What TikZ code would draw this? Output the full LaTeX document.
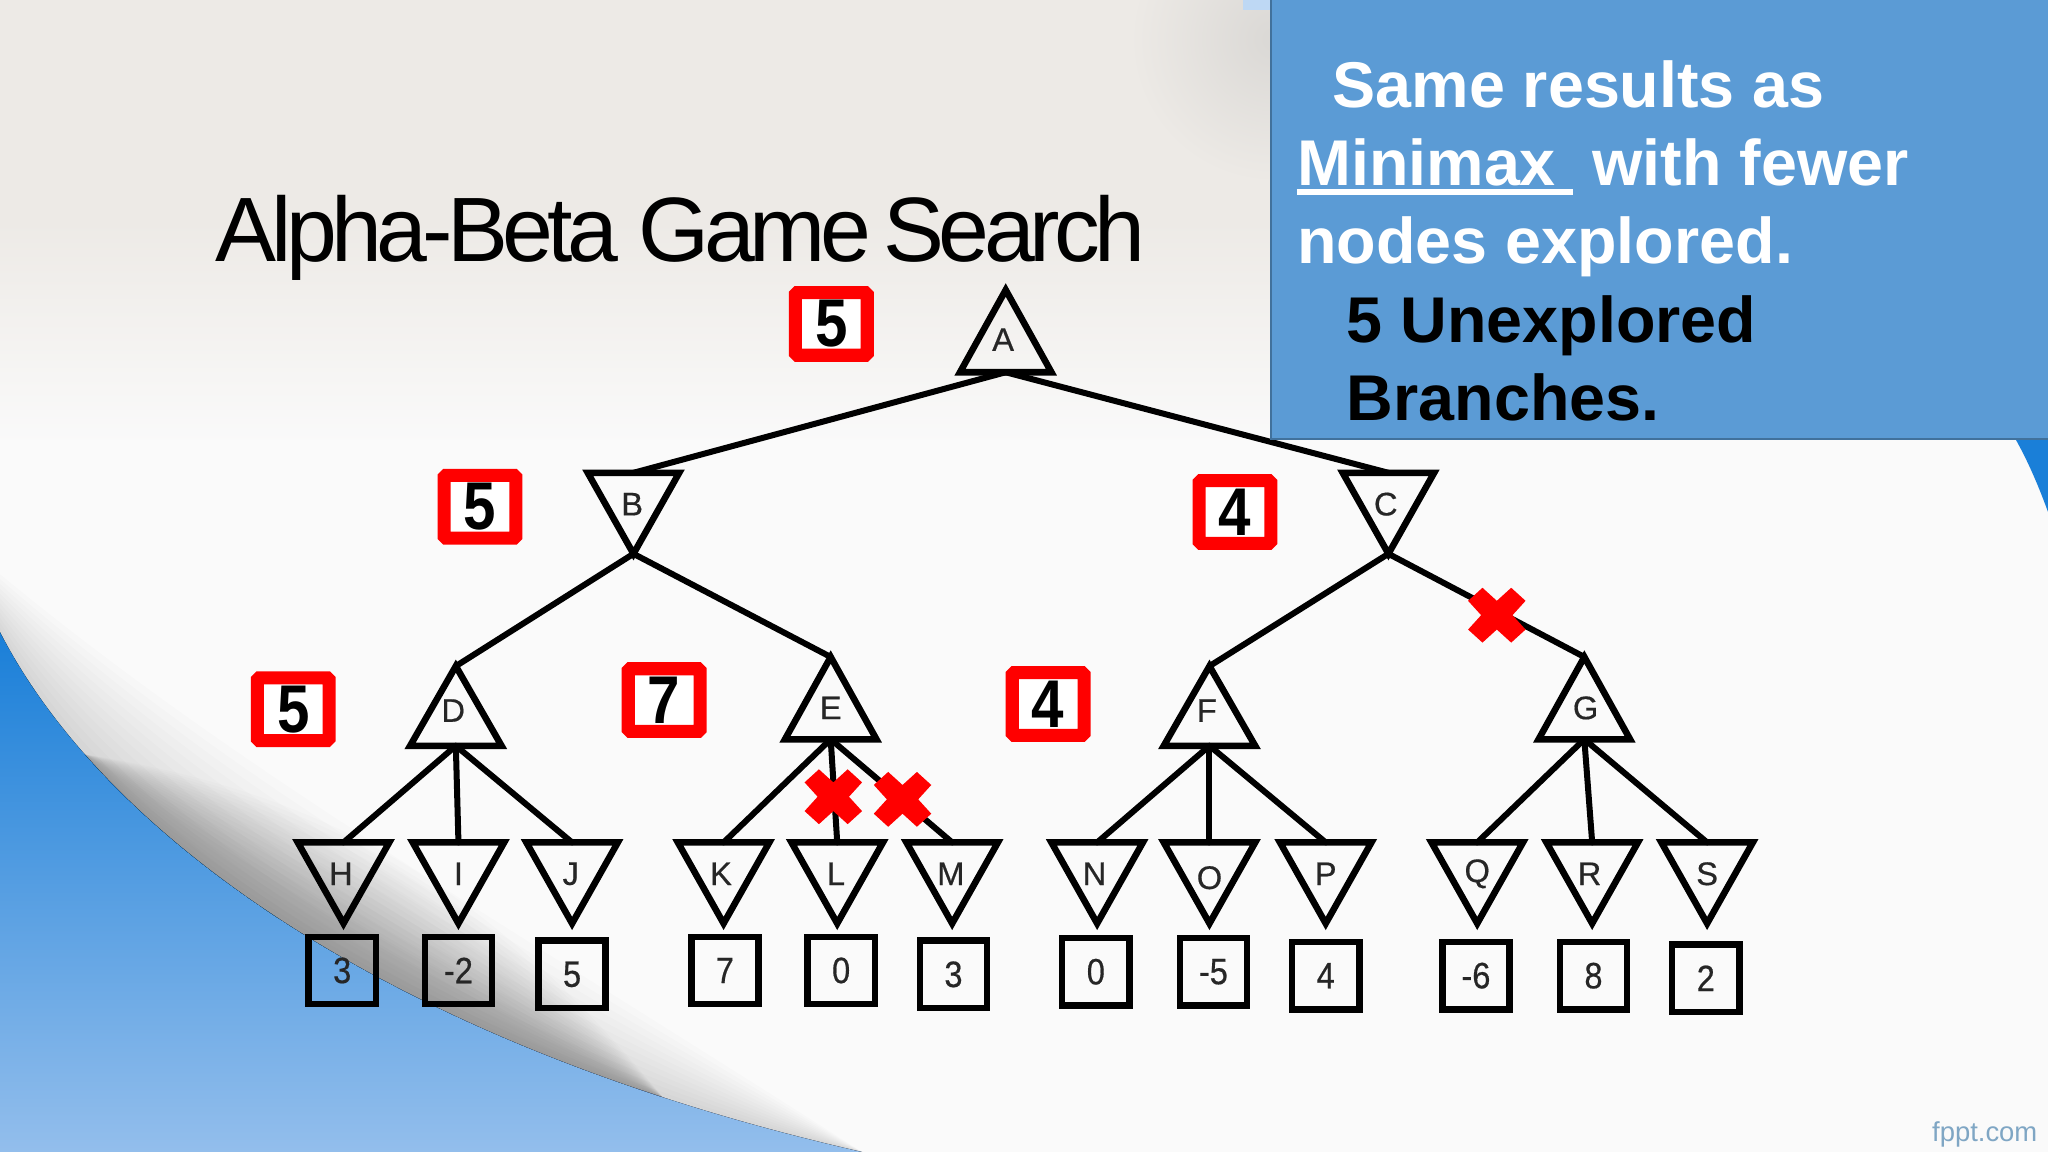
\documentclass[tikz,border=0pt]{standalone}
\usepackage{fontspec}
\setmainfont{Liberation Sans}
\usetikzlibrary{calc}
\definecolor{panel}{HTML}{5B9BD5}
\definecolor{panelline}{HTML}{41719C}
\definecolor{redmark}{HTML}{FF0000}
\definecolor{bluetop}{HTML}{1A7FD8}
\definecolor{bluebot}{HTML}{93BEEC}
\definecolor{paper}{HTML}{EDEAE6}
\definecolor{paperlow}{HTML}{FAFAFA}
\definecolor{paperdark}{HTML}{DAD8D5}
\definecolor{brand}{HTML}{7FA6C4}
\newcommand{\tallnum}[1]{\scalebox{.95}[1.1]{#1}}
\newcommand{\leafnum}[1]{\scalebox{.96}[1.08]{#1}}
\tikzset{
  edgeline/.style={line width=4.6pt,line cap=round},
  tri/.style={draw=black,line width=5pt,line join=miter,miter limit=10},
  letter/.style={font=\fontsize{25}{25}\selectfont\addfontfeature{FakeBold=0.5},inner sep=0pt,text=black!85},
  leaf/.style={draw=black,line width=5pt,minimum width=51.5pt,minimum height=51.5pt,inner sep=0pt,font=\fontsize{26}{26}\selectfont\addfontfeature{FakeBold=0.5},text=black!85},
  val/.style={draw=redmark,line width=10pt,rounded corners=1.5pt,minimum width=55pt,minimum height=48pt,inner sep=0pt,fill=white,font=\bfseries\fontsize{47}{47}\selectfont},
  panelline1/.style={anchor=base west,inner sep=0pt,font=\bfseries\fontsize{49.5}{49.5}\selectfont},
}
% name, apex x, apex y, base y, half width, letter x, letter y
\newcommand{\gamenode}[7]{%
  \coordinate (#1apex) at (#2,#3);
  \coordinate (#1base) at (#2,#4);
  \draw[tri] (#2-#5,#4) -- (#2,#3) -- (#2+#5,#4) -- cycle;
  \node[letter] (#1) at (#6,#7) {#1};
}
\newcommand{\crossmark}[3]{%
  \fill[redmark,shift={(#2,#3)}] (0,-11) -- (11,-21) -- (22,-11) -- (12,0) -- (22,11) -- (11,21) -- (0,11) -- (-11,21) -- (-22,11) -- (-12,0) -- (-22,-11) -- (-11,-21) -- cycle;
  \coordinate (#1) at (#2,#3);
}
\begin{document}
\begin{tikzpicture}[x=1pt,y=-1pt]
\useasboundingbox (0,0) rectangle (1568,882);
% background
\fill[paperlow] (0,0) rectangle (1568,882);
\fill[paper] (0,0) rectangle (1568,170);
\fill[top color=paper,bottom color=paperlow] (0,170) rectangle (1568,340);
\begin{scope}
  \clip (840,0) rectangle (975,170);
  \shade[inner color=paperdark,outer color=paper] (975,30) circle (110);
\end{scope}
\fill[bluebot!60!white] (952,0) rectangle (975,8);
% swoosh
\fill[top color=bluetop,bottom color=bluebot] (0,484) .. controls (80,640) and (300,800) .. (660,882) -- (0,882) -- cycle;
\foreach \k in {1,...,12}{
  \fill[black,opacity=0.010] (0,484) .. controls (80,640) and (300,800) .. (660,882)
    .. controls ({300+\k*6},{800-\k*8.5}) and ({80+\k*8.5},{640-\k*4.2}) .. (0,{484-\k*3.7}) -- cycle;
}
\foreach \k in {1,...,22}{
  \fill[black,opacity=0.012] (64.8,577.5) .. controls (153.2,677.8) and (300.7,772.7) .. (507.4,840)
    .. controls ({300.7+\k*3.2},{772.7-\k*4.4}) and ({153.2+\k*4.4},{677.8-\k*3.2}) .. (64.8,577.5) -- cycle;
}
\fill[bluetop] (1543,336) -- (1568,336) -- (1568,392) .. controls (1560,370) and (1552,352) .. cycle;
% title
\node[anchor=base west,inner sep=0pt,font=\fontsize{70}{70}\selectfont] (title) at (165,200) {\addfontfeature{LetterSpace=-6}Alpha-Beta Game\hspace{-6pt} Search};
% tree
\gamenode{A}{770}{222}{285}{35}{768}{260}
\gamenode{B}{485}{424}{362}{35}{484}{386}
\gamenode{C}{1063}{424}{362}{35}{1061}{386}
\gamenode{D}{349}{510}{571}{35}{347}{544}
\gamenode{E}{636}{503}{566}{35}{636}{542}
\gamenode{F}{926}{510}{571}{35}{924}{544}
\gamenode{G}{1213}{503}{566}{35}{1214}{542}
\gamenode{H}{263}{707}{645}{35}{261}{669}
\gamenode{I}{351}{707}{645}{35}{351}{669}
\gamenode{J}{438}{707}{645}{35}{437}{669}
\gamenode{K}{554}{707}{645}{35}{552}{669}
\gamenode{L}{641}{707}{645}{35}{640}{669}
\gamenode{M}{729}{707}{645}{35}{728}{669}
\gamenode{N}{840}{707}{645}{35}{838}{669}
\gamenode{O}{926}{707}{645}{35}{926}{672}
\gamenode{P}{1015}{707}{645}{35}{1015}{669}
\gamenode{Q}{1131}{707}{645}{35}{1131}{669}
\gamenode{R}{1219}{707}{645}{35}{1217}{669}
\gamenode{S}{1307}{707}{645}{35}{1307}{669}
% connectors
\draw[edgeline] (Abase) -- (Bbase);
\draw[edgeline] (Abase) -- (Cbase);
\draw[edgeline] (Bapex) -- (Dapex);
\draw[edgeline] (Bapex) -- (Eapex);
\draw[edgeline] (Capex) -- (Fapex);
\draw[edgeline] (Capex) -- (Gapex);
\foreach \p/\a in {D/H,D/I,D/J,E/K,E/L,E/M,F/N,F/O,F/P,G/Q,G/R,G/S}{
  \draw[edgeline] (\p base) -- (\a base);
}
% leaves
\node[leaf] (v1) at (262,743) {\leafnum{3}};
\node[leaf] (v2) at (351,743) {\leafnum{-2}};
\node[leaf] (v3) at (438,746) {\leafnum{5}};
\node[leaf] (v4) at (555,743) {\leafnum{7}};
\node[leaf] (v5) at (644,743) {\leafnum{0}};
\node[leaf] (v6) at (730,746) {\leafnum{3}};
\node[leaf] (v7) at (839,744) {\leafnum{0}};
\node[leaf] (v8) at (929,744) {\leafnum{-5}};
\node[leaf] (v9) at (1015,747) {\leafnum{4}};
\node[leaf] (v10) at (1130,747) {\leafnum{-6}};
\node[leaf] (v11) at (1220,747) {\leafnum{8}};
\node[leaf] (v12) at (1306,749) {\leafnum{2}};
% values
\node[val] (rA) at (636.5,248) {\tallnum{5}};
\node[val] (rB) at (367.5,388) {\tallnum{5}};
\node[val] (rC) at (945.5,392) {\tallnum{4}};
\node[val] (rD) at (224.5,543) {\tallnum{5}};
\node[val] (rE) at (508.5,536) {\tallnum{7}};
\node[val] (rF) at (802.5,539) {\tallnum{4}};
% crosses
\crossmark{x1}{638}{610}
\crossmark{x2}{691}{612}
\crossmark{x3}{1146}{471}
% panel
\fill[panel,draw=panelline,line width=1.5pt] (973,-2) rectangle (1570,336);
\node[panelline1,text=white] (p1) at (1020,82) {Same results as};
\node[panelline1,text=white] (p2) at (993,142) {Minimax};
\draw[white,line width=4pt] (993,147) -- (1204,147);
\node[panelline1,text=white] (p2b) at (1219,142) {with fewer};
\node[panelline1,text=white] (p3) at (993,202) {nodes explored.};
\node[panelline1,text=black] (p4) at (1031,262) {5 Unexplored};
\node[panelline1,text=black] (p5) at (1031,322) {Branches.};
\node[anchor=base east,inner sep=0pt,font=\fontsize{21}{21}\selectfont,text=brand] (fp) at (1560,874) {fppt.com};
\end{tikzpicture}
\end{document}
